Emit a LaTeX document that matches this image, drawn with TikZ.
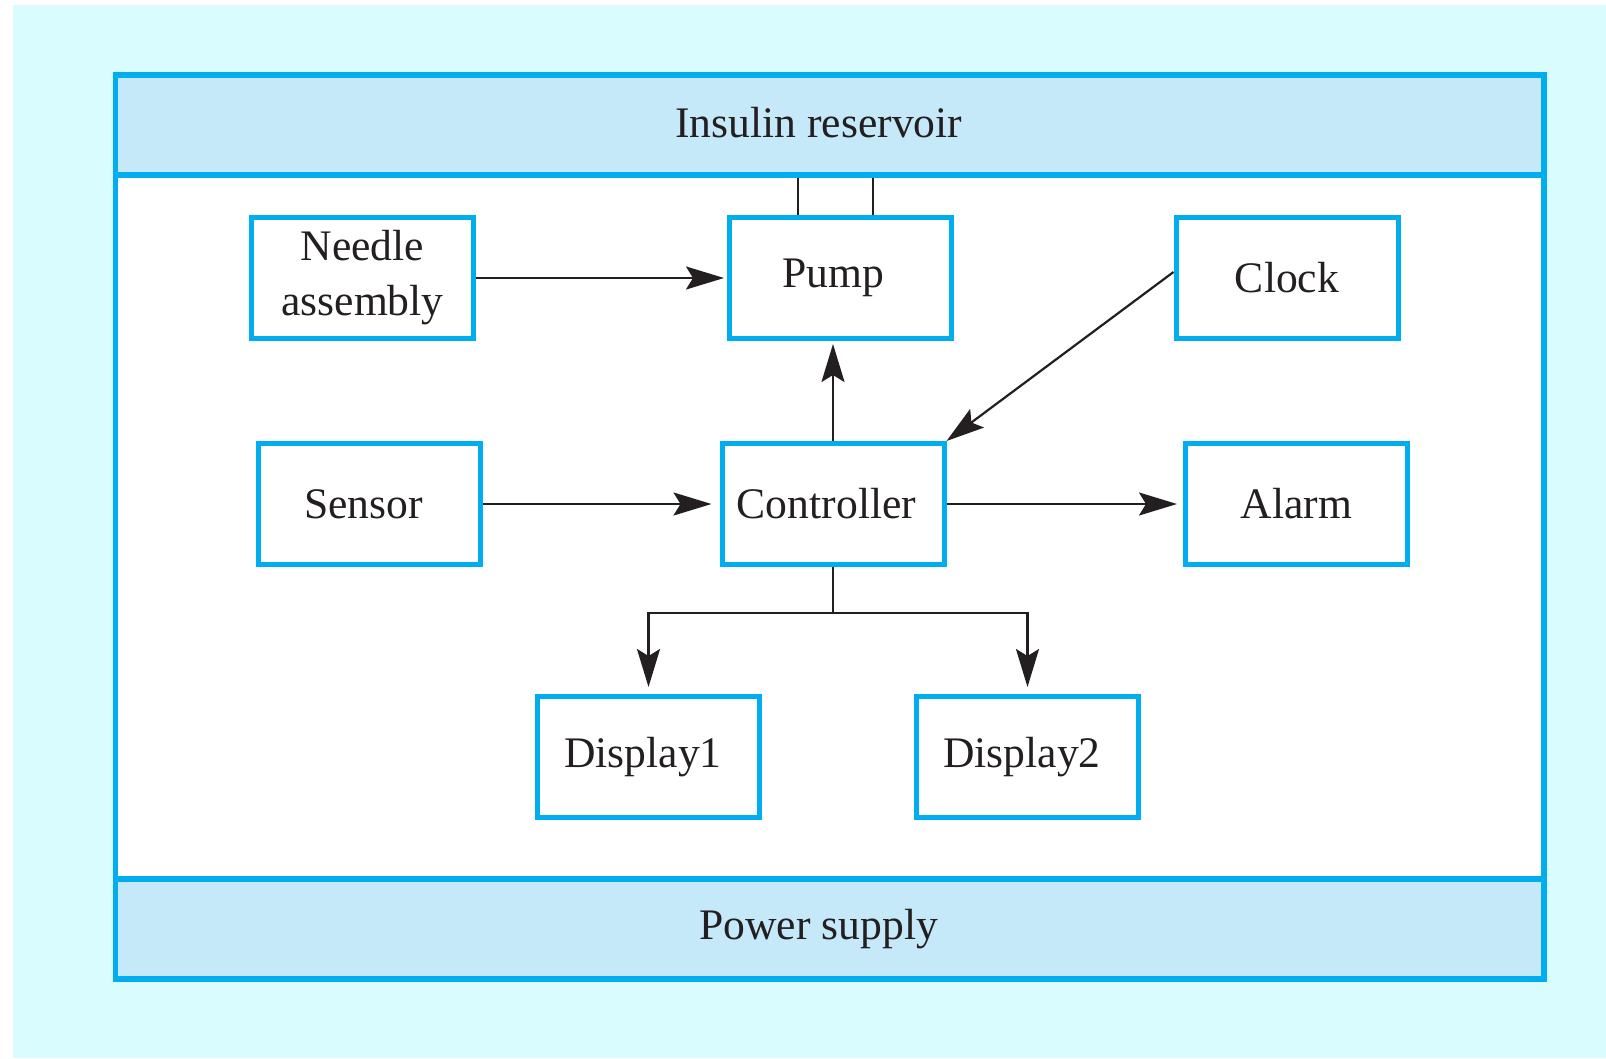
\documentclass[tikz,border=0pt]{standalone}
\usepackage{fontspec}
\setmainfont{Liberation Serif}
\usetikzlibrary{arrows.meta}
\definecolor{bgc}{RGB}{217,252,255}
\definecolor{bandc}{RGB}{197,233,248}
\definecolor{edgec}{RGB}{0,174,239}
\definecolor{inkc}{RGB}{35,31,32}
\begin{document}
\begin{tikzpicture}[x=1pt,y=-1pt,
  every node/.style={font=\fontsize{43.6}{55}\selectfont, text=inkc},
  blk/.style={draw=edgec, line width=5pt, fill=white, minimum width=222pt, minimum height=121pt, inner sep=0pt},
  lshift/.style={execute at begin node={\hspace*{-#1}}},
  band/.style={draw=edgec, line width=5.5pt, fill=bandc, minimum width=1428.5pt, minimum height=100pt, inner sep=0pt, lshift=22pt},
  link/.style={draw=inkc, line width=2.2pt},
  arr/.style={link, -{Stealth[length=38pt,width=23pt,inset=7pt]}}]
\useasboundingbox (0,0) rectangle (1606,1058);
\fill[bgc] (13,5) rectangle (1606,1058);
\fill[white] (115.5,75) rectangle (1544,979);
\node[band, text depth=6pt] (reservoir) at (829.75,125) {Insulin reservoir};
\node[band] (power) at (829.75,929) {Power supply};
\draw[edgec, line width=5.5pt] (115.5,75) rectangle (1544,979);

\node[blk, align=center] (needle) at (362.5,278) {Needle\\assembly};
\node[blk, lshift=14pt] (pump) at (840.5,278) {Pump};
\node[blk] (clock) at (1287,278) {Clock};
\node[blk, lshift=12pt] (sensor) at (369.5,504) {Sensor};
\node[blk, lshift=13pt] (controller) at (833,504) {Controller};
\node[blk] (alarm) at (1296.5,504) {Alarm};
\node[blk, lshift=11pt] (display1) at (648.5,757) {Display1};
\node[blk, lshift=11pt] (display2) at (1027.5,757) {Display2};

\coordinate (pl) at ([xshift=-42.5pt]pump.north);
\coordinate (pr) at ([xshift=32.5pt]pump.north);
\draw[link] (pl) -- (pl |- reservoir.south);
\draw[link] (pr) -- (pr |- reservoir.south);

\draw[arr, shorten >=3pt] (needle.east) -- (pump.west);
\draw[arr, shorten >=3pt] (controller.north) -- (controller.north |- pump.south);
\draw[arr] ([yshift=6pt]clock.west) -- (controller.north east);
\draw[arr, shorten >=8pt] (sensor.east) -- (controller.west);
\draw[arr, shorten >=6pt] (controller.east) -- (alarm.west);
\coordinate (split) at (833,613);
\draw[link] (controller.south) -- (split);
\draw[arr, shorten >=7pt] (split) -| (display1.north);
\draw[arr, shorten >=7pt] (split) -| (display2.north);
\end{tikzpicture}
\end{document}
